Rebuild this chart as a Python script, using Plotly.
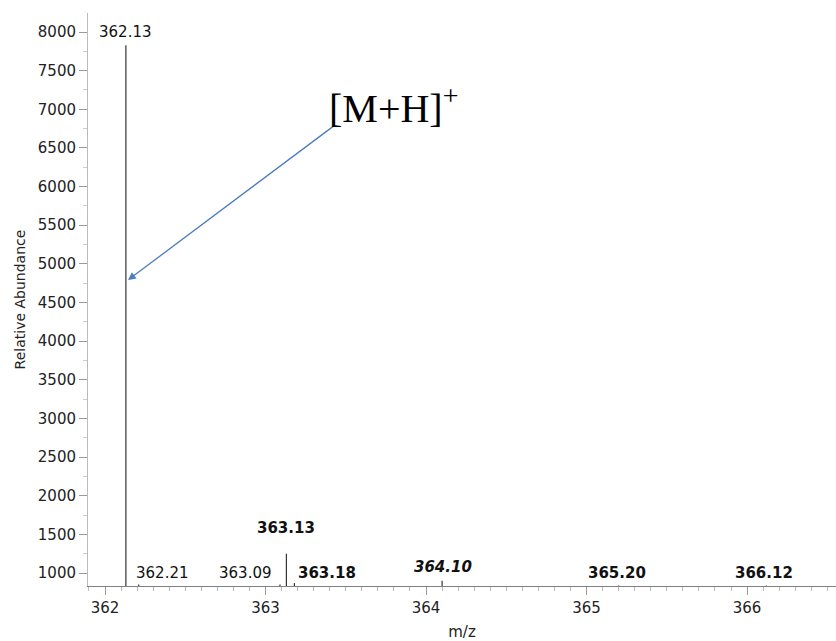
import plotly.graph_objects as go

# Peak data (m/z, intensity)
peak_mz = [362.13, 362.21, 363.09, 363.13, 363.18, 364.10, 365.20, 366.12]
peak_int = [7830, 850, 850, 1250, 870, 900, 840, 840]
baseline = 832

# Labels (text, x, y, style)
label_text = ["362.13", "362.21", "363.09", "363.13", "363.18", "364.10", "365.20", "366.12"]
label_x = [362.13, 362.361, 362.878, 363.128, 363.383, 364.106, 365.19, 366.106]
label_y = [8000, 1000, 1000, 1582, 1000, 1078, 1000, 1000]
label_style = ["normal", "normal", "normal", "bold", "bold", "bolditalic", "bold", "bold"]

y_ticks = [1000, 1500, 2000, 2500, 3000, 3500, 4000, 4500, 5000, 5500, 6000, 6500, 7000, 7500, 8000]
x_ticks = [362, 363, 364, 365, 366]

xs, ys = [], []
for m, v in zip(peak_mz, peak_int):
    xs += [m, m, None]
    ys += [baseline, v, None]

fig = go.Figure()
fig.add_trace(go.Scatter(x=xs, y=ys, mode="lines",
                         line=dict(color="#333333", width=1.2),
                         hoverinfo="skip", showlegend=False))

for t, x, y, s in zip(label_text, label_x, label_y, label_style):
    txt = t
    if s == "bold":
        txt = f"<b>{t}</b>"
    elif s == "bolditalic":
        txt = f"<b><i>{t}</i></b>"
    fig.add_annotation(x=x, y=y, text=txt, showarrow=False,
                       font=dict(family="DejaVu Sans", size=15, color="#111111"),
                       xanchor="center", yanchor="middle")

# Arrow and [M+H]+ label
fig.add_annotation(x=362.143, y=4791, ax=363.433, ay=6797,
                   xref="x", yref="y", axref="x", ayref="y",
                   text="", showarrow=True, arrowhead=2, arrowsize=1.2,
                   arrowwidth=1.3, arrowcolor="#4f7cbc")
fig.add_annotation(x=363.80, y=7050, text="[M+H]<sup>+</sup>", showarrow=False,
                   font=dict(family="Liberation Serif", size=40, color="#000000"),
                   xanchor="center", yanchor="middle")

fig.update_layout(
    width=836, height=641,
    margin=dict(l=88, r=0, t=13, b=55),
    paper_bgcolor="white", plot_bgcolor="white",
    font=dict(family="DejaVu Sans", color="#111111"),
    showlegend=False,
)
fig.update_xaxes(range=[361.894, 366.554], tickvals=x_ticks,
                 ticktext=[str(v) for v in x_ticks],
                 showgrid=False, zeroline=False, showline=True,
                 linecolor="#808080", linewidth=1,
                 ticks="outside", ticklen=8, tickcolor="#999999",
                 minor=dict(dtick=0.1, ticks="outside", ticklen=4, tickcolor="#bbbbbb"),
                 tickfont=dict(family="DejaVu Sans", size=15, color="#222222"),
                 title=dict(text="m/z", font=dict(family="DejaVu Sans", size=15, color="#222222"), standoff=10))
fig.update_yaxes(range=[832, 8246], tickvals=y_ticks,
                 ticktext=[str(v) for v in y_ticks],
                 showgrid=False, zeroline=False, showline=True,
                 linecolor="#bbbbbb", linewidth=1,
                 ticks="outside", ticklen=8, tickcolor="#999999",
                 minor=dict(dtick=250, ticks="outside", ticklen=4, tickcolor="#cccccc"),
                 tickfont=dict(family="DejaVu Sans", size=15, color="#222222"),
                 title=dict(text="Relative Abundance", font=dict(family="DejaVu Sans", size=14, color="#222222"), standoff=8))

fig.write_html("out.html")
